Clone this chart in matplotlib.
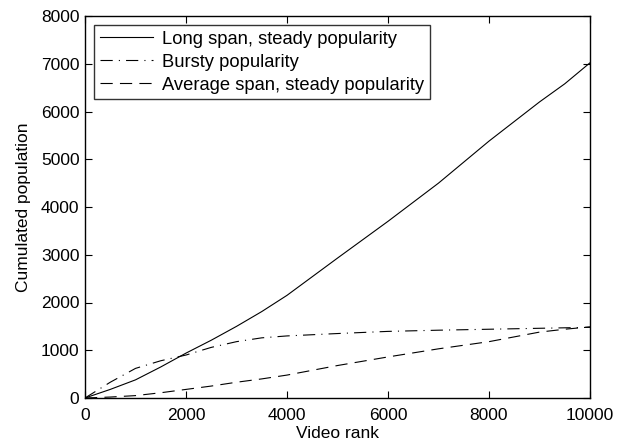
import numpy as np
import matplotlib
matplotlib.use("Agg")
import matplotlib.pyplot as plt

plt.rcParams["font.family"] = ["Liberation Sans", "DejaVu Sans"]

# values
rank = [0, 500, 1000, 1500, 2000, 2500, 3000, 3500, 4000, 5000, 6000, 7000, 8000, 8500, 9000, 9500, 10000]
long_span = [0, 180, 380, 650, 940, 1210, 1500, 1810, 2150, 2930, 3700, 4500, 5380, 5790, 6200, 6580, 7020]
bursty = [0, 330, 620, 780, 900, 1060, 1180, 1260, 1300, 1350, 1395, 1420, 1440, 1450, 1460, 1470, 1480]
average_span = [0, 20, 50, 110, 180, 250, 330, 400, 480, 680, 860, 1030, 1180, 1280, 1380, 1440, 1490]

fig = plt.figure(figsize=(6.24, 4.47), dpi=100)
ax = fig.add_axes([85 / 624, 1 - 398 / 447, 505 / 624, 382 / 447])

ax.plot(rank, long_span, color="black", lw=0.8, ls="-", label="Long span, steady popularity")
ax.plot(rank, bursty, color="black", lw=0.8, ls=(0, (11, 5.5, 1, 5.5)), label="Bursty popularity")
ax.plot(rank, average_span, color="black", lw=0.8, ls=(0, (11, 6.5)), label="Average span, steady popularity")

ax.set_xlim(0, 10000)
ax.set_ylim(0, 8000)
ax.set_xticks(np.arange(0, 10001, 2000))
ax.set_yticks(np.arange(0, 8001, 1000))
ax.tick_params(direction="in", top=True, right=True, length=5, width=0.8, labelsize=12.5, pad=4)
ax.tick_params(axis="x", pad=7)
for s in ax.spines.values():
    s.set_linewidth(1.0)

ax.set_xlabel("Video rank", fontsize=12.5, labelpad=2)
ax.set_ylabel("Cumulated population", fontsize=12.5, labelpad=7)

leg = ax.legend(loc="upper left", fontsize=13.2, frameon=True, fancybox=False,
                edgecolor="black", handlelength=2.9, handletextpad=0.5,
                borderpad=0.3, labelspacing=0.33, borderaxespad=0.5,
                bbox_to_anchor=(0.0, 1.0))
leg.get_frame().set_linewidth(1.0)

fig.savefig("out.png", dpi=100)
